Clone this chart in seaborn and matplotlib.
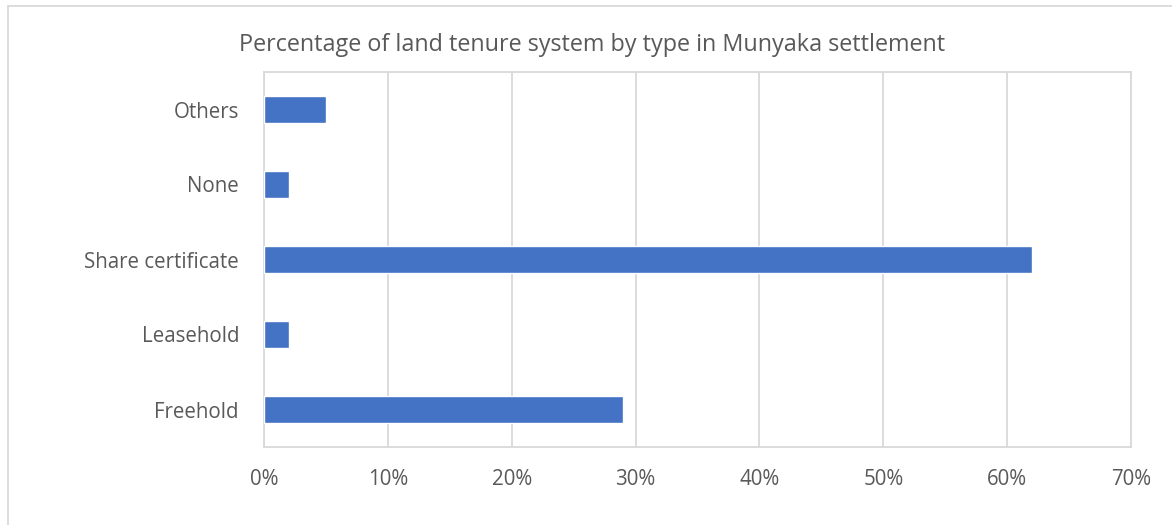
import matplotlib
matplotlib.use("Agg")
import matplotlib.pyplot as plt
import matplotlib.ticker as mticker
from matplotlib.lines import Line2D
import seaborn as sns
import pandas as pd

# Land tenure categories (top to bottom) and their shares in percent
categories = ["Others", "None", "Share certificate", "Leasehold", "Freehold"]
shares = [5, 2, 62, 2, 29]
x_ticks = [0, 10, 20, 30, 40, 50, 60, 70]

df = pd.DataFrame({"tenure": categories, "share": shares})

sns.set_theme(style="white")
plt.rcParams["font.family"] = ["Open Sans", "DejaVu Sans"]

text_color = "#595959"
grid_color = "#D9D9D9"
bar_color = "#4472C4"

fig = plt.figure(figsize=(11.72, 5.25), dpi=100)
ax = fig.add_axes([264 / 1172, 1 - 447 / 525, (1131 - 264) / 1172, (447 - 72) / 525])

sns.barplot(data=df, x="share", y="tenure", order=categories, orient="h",
            color=bar_color, saturation=1, width=0.35, ax=ax, zorder=3)

ax.set_xlim(0, 70)
ax.set_ylim(4.5, -0.5)
ax.set_xticks(x_ticks)
ax.xaxis.set_major_formatter(mticker.FuncFormatter(lambda v, _: f"{v:.0f}%"))
ax.grid(axis="x", color=grid_color, linewidth=1.3, zorder=0)
ax.set_axisbelow(True)
ax.set_xlabel("")
ax.set_ylabel("")
for s in ax.spines.values():
    s.set_color(grid_color)
    s.set_linewidth(1.3)
ax.tick_params(axis="both", length=0, colors=text_color, labelsize=14.8)
ax.tick_params(axis="y", pad=18)
ax.tick_params(axis="x", pad=16)

fig.text(592 / 1172, 1 - 45 / 525, "Percentage of land tenure system by type in Munyaka settlement",
         ha="center", va="center", fontsize=16.8, color=text_color)

# Outer chart frame (left and top edges)
fig.add_artist(Line2D([8 / 1172, 8 / 1172], [0, 1 - 6 / 525], transform=fig.transFigure,
                      color=grid_color, linewidth=1.3))
fig.add_artist(Line2D([8 / 1172, 1], [1 - 6 / 525, 1 - 6 / 525], transform=fig.transFigure,
                      color=grid_color, linewidth=1.3))

fig.savefig("out.png", dpi=100, facecolor="white")
